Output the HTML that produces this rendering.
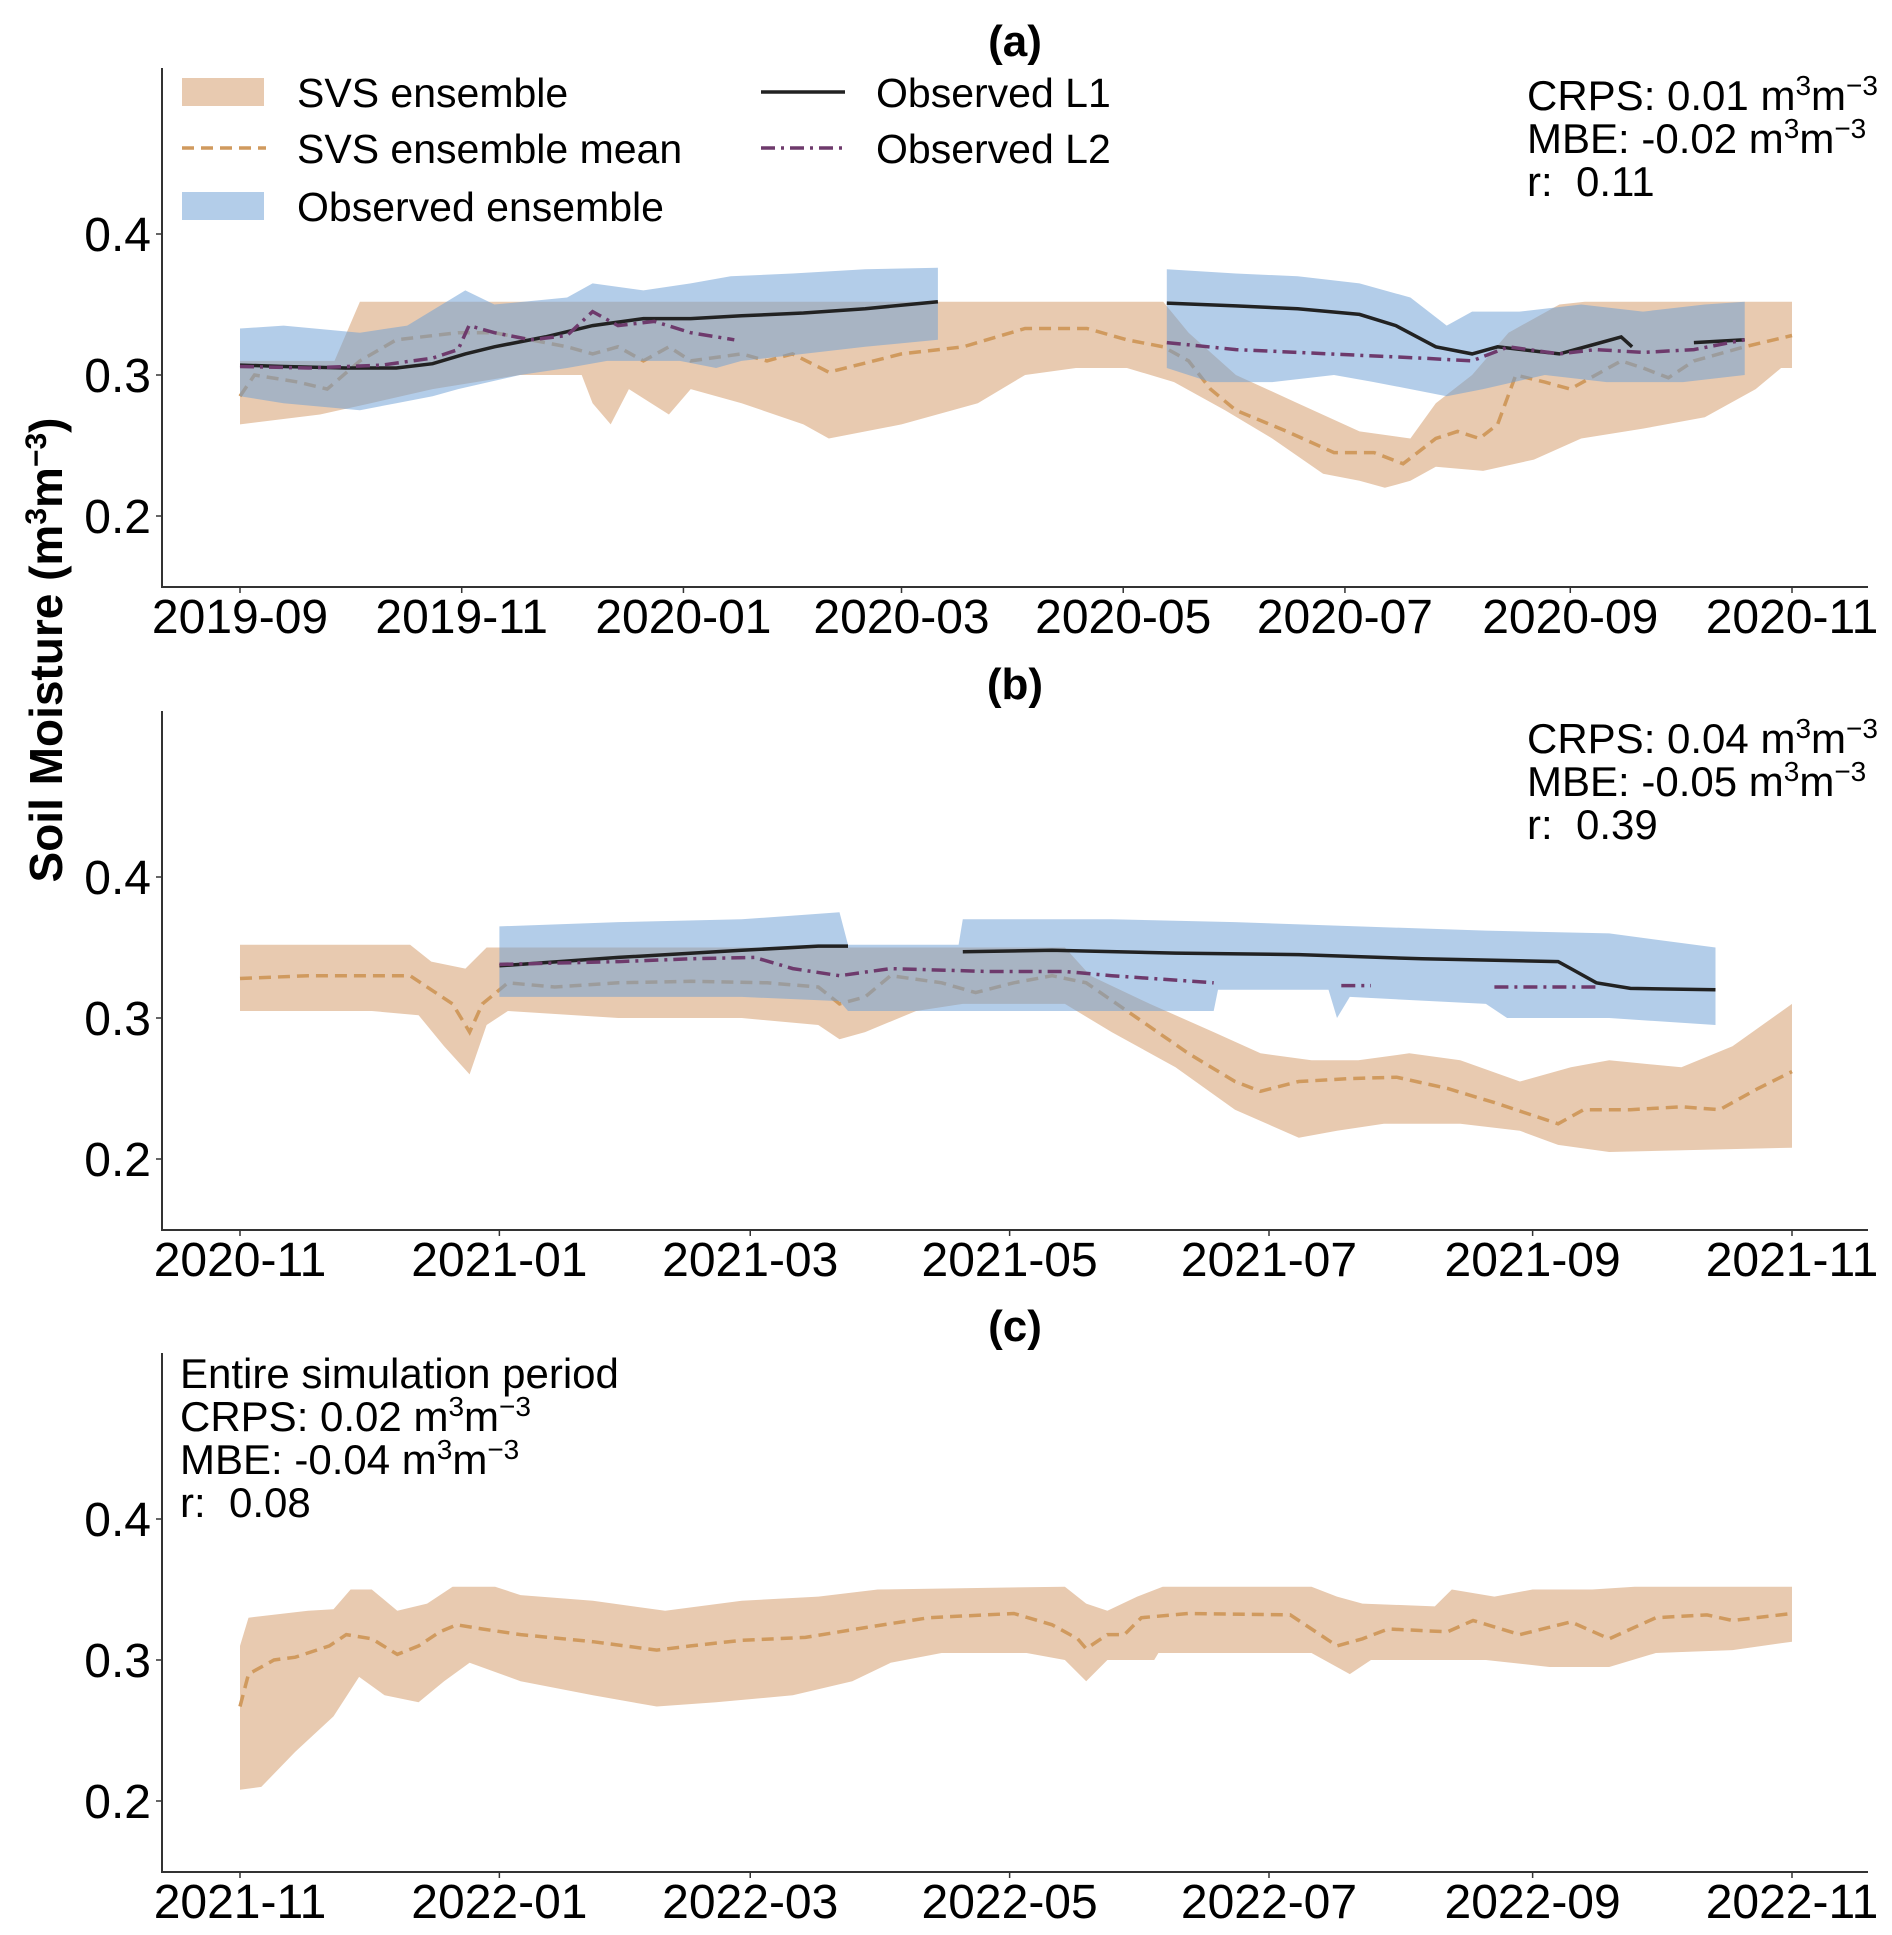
<!DOCTYPE html>
<html><head><meta charset="utf-8">
<style>
html,body{margin:0;padding:0;background:#fff;}
svg text{font-family:"Liberation Sans",sans-serif;fill:#000;}
</style></head>
<body>
<svg id="fig" width="1892" height="1930" viewBox="0 0 1892 1930" xmlns="http://www.w3.org/2000/svg">
<text transform="translate(62,650) rotate(-90)" text-anchor="middle" font-size="46" font-weight="bold">Soil Moisture (m<tspan baseline-shift="super" font-size="30">3</tspan>m<tspan baseline-shift="super" font-size="30">−3</tspan>)</text>
</svg>
<script>
// ---------- Panel (a) data: [day since 2019-09-01, value] ----------
const aTicks = ["2019-09","2019-11","2020-01","2020-03","2020-05","2020-07","2020-09","2020-11"];
const aTickDays = [0,61,122,182,243,304,366,427];
const aUpper = [[0,.31],[26,.31],[33,.352],[254,.352],[261,.33],[274,.30],[291,.28],[308,.26],[322,.255],[329,.28],[339,.30],[349,.33],[363,.35],[370,.352],[427,.352]];
const aMean = [[0,.285],[4,.30],[16,.295],[24,.29],[33,.31],[43,.325],[60,.33],[70,.33],[80,.325],[90,.32],[97,.315],[104,.32],[111,.31],[118,.32],[124,.31],[138,.315],[145,.31],[152,.315],[162,.302],[182,.315],[199,.32],[216,.333],[233,.333],[244,.325],[254,.32],[261,.31],[267,.29],[274,.275],[288,.26],[301,.245],[312,.245],[320,.237],[329,.255],[335,.26],[341,.255],[346,.265],[351,.30],[359,.295],[366,.29],[373,.30],[380,.31],[386,.305],[393,.298],[400,.31],[414,.32],[427,.328]];
const aLower = [[0,.265],[22,.272],[36,.28],[53,.29],[77,.30],[94,.30],[97,.28],[102,.265],[107,.29],[118,.272],[124,.29],[138,.28],[155,.265],[162,.255],[182,.265],[203,.28],[216,.30],[230,.305],[244,.305],[257,.295],[271,.275],[284,.255],[298,.23],[308,.225],[315,.22],[322,.225],[329,.235],[342,.232],[356,.24],[369,.255],[386,.262],[403,.27],[417,.29],[424,.305],[427,.305]];
const aObsUpper1 = [[0,.333],[12,.335],[33,.33],[46,.335],[62,.36],[70,.35],[90,.355],[97,.365],[111,.36],[124,.365],[135,.37],[152,.372],[172,.375],[192,.376]];
const aObsLower1 = [[0,.285],[12,.28],[33,.275],[43,.28],[53,.285],[60,.29],[77,.30],[90,.305],[101,.31],[111,.31],[121,.31],[131,.305],[138,.31],[155,.315],[172,.32],[192,.325]];
const aObsUpper2 = [[255,.375],[274,.372],[291,.37],[308,.365],[322,.355],[332,.335],[339,.345],[352,.345],[369,.35],[386,.345],[403,.35],[414,.352]];
const aObsLower2 = [[255,.305],[267,.295],[284,.295],[301,.30],[312,.295],[322,.29],[332,.285],[342,.29],[359,.30],[376,.295],[397,.295],[414,.30]];
const aL1 = [[[0,.307],[12,.306],[29,.305],[43,.305],[53,.308],[62,.315],[70,.32],[84,.327],[97,.335],[111,.34],[124,.34],[138,.342],[155,.344],[172,.347],[192,.352]],
             [[255,.351],[274,.349],[291,.347],[308,.343],[318,.335],[329,.32],[339,.315],[346,.32],[356,.317],[363,.315],[373,.322],[380,.327],[383,.32]],
             [[400,.323],[414,.325]]];
const aL2 = [[[0,.306],[19,.305],[39,.307],[53,.312],[60,.318],[63,.335],[70,.33],[80,.325],[90,.328],[97,.345],[104,.335],[114,.338],[124,.33],[136,.325]],
             [[255,.323],[274,.318],[291,.316],[308,.314],[325,.312],[339,.31],[349,.32],[363,.315],[373,.318],[386,.316],[400,.318],[414,.325]]];

// ---------- Panel (b) data: [day since 2020-11-01, value] ----------
const bTicks = ["2020-11","2021-01","2021-03","2021-05","2021-07","2021-09","2021-11"];
const bTickDays = [0,61,120,181,242,304,365];
const bUpper = [[0,.352],[40,.352],[45,.34],[53,.335],[58,.35],[60,.35],[194,.35],[200,.33],[214,.31],[229,.29],[240,.275],[252,.27],[263,.27],[275,.275],[287,.27],[301,.255],[313,.265],[322,.27],[339,.265],[351,.28],[365,.31]];
const bMean = [[0,.328],[16,.33],[31,.33],[40,.33],[45,.32],[50,.31],[54,.29],[57,.31],[63,.325],[74,.322],[89,.325],[106,.326],[124,.325],[136,.322],[141,.31],[147,.315],[153,.33],[165,.325],[173,.318],[182,.325],[191,.33],[199,.325],[211,.30],[223,.275],[234,.255],[240,.248],[249,.255],[261,.257],[272,.258],[284,.25],[295,.24],[310,.225],[316,.235],[327,.235],[339,.237],[348,.235],[357,.25],[365,.262]];
const bLower = [[0,.305],[31,.305],[42,.302],[48,.28],[54,.26],[58,.295],[63,.305],[89,.30],[118,.30],[136,.295],[141,.285],[147,.29],[159,.305],[170,.31],[182,.31],[194,.31],[205,.29],[220,.265],[234,.235],[249,.215],[258,.22],[269,.225],[287,.225],[301,.22],[310,.21],[322,.205],[365,.208]];
const bObsUpper = [[61,.365],[89,.368],[118,.37],[141,.375],[143,.352],[169,.352],[170,.37],[205,.37],[234,.368],[263,.365],[293,.362],[322,.36],[347,.35]];
const bObsLower = [[61,.315],[118,.315],[141,.312],[143,.305],[169,.305],[229,.305],[230,.32],[256,.32],[258,.30],[261,.315],[293,.31],[298,.30],[322,.30],[347,.295]];
const bL1 = [[[61,.337],[89,.343],[118,.348],[136,.351],[143,.351]],
             [[170,.347],[191,.348],[220,.346],[249,.345],[278,.342],[310,.34],[313,.335],[319,.325],[327,.321],[347,.32]]];
const bL2 = [[[61,.338],[89,.34],[106,.342],[121,.343],[130,.335],[141,.33],[153,.335],[176,.333],[194,.333],[205,.33],[229,.325]],
             [[259,.323],[266,.323]],[[295,.322],[319,.322]]];

// ---------- Panel (c) data: [day since 2021-11-01, value] ----------
const cTicks = ["2021-11","2022-01","2022-03","2022-05","2022-07","2022-09","2022-11"];
const cTickDays = [0,61,120,181,242,304,365];
const cUpper = [[0,.31],[2,.33],[16,.335],[22,.336],[26,.35],[31,.35],[37,.335],[44,.34],[50,.352],[60,.352],[66,.346],[83,.342],[100,.335],[118,.342],[136,.345],[150,.35],[194,.352],[199,.34],[204,.335],[211,.345],[217,.352],[252,.352],[258,.345],[264,.34],[281,.338],[285,.35],[295,.345],[304,.35],[318,.35],[328,.352],[365,.352]];
const cMean = [[0,.267],[2,.29],[8,.30],[13,.302],[21,.31],[25,.318],[31,.315],[37,.304],[42,.31],[47,.32],[51,.325],[57,.322],[66,.318],[83,.313],[98,.307],[106,.31],[118,.314],[133,.316],[147,.323],[162,.33],[182,.333],[191,.325],[197,.315],[199,.308],[204,.318],[208,.318],[212,.33],[223,.333],[247,.332],[258,.31],[264,.315],[270,.322],[284,.32],[290,.328],[301,.318],[313,.327],[322,.315],[333,.33],[345,.332],[351,.328],[365,.333]];
const cLower = [[0,.208],[5,.21],[13,.235],[22,.26],[28,.288],[34,.275],[42,.27],[48,.285],[54,.298],[66,.285],[83,.275],[98,.267],[112,.27],[130,.275],[144,.285],[153,.298],[165,.305],[185,.305],[194,.30],[199,.285],[204,.30],[215,.30],[216,.305],[252,.305],[261,.29],[266,.30],[293,.30],[308,.295],[322,.295],[333,.305],[351,.307],[365,.313]];

const yTicks = [0.2,0.3,0.4];
const yTickLabels = ["0.2","0.3","0.4"];

const NS = "http://www.w3.org/2000/svg";
const svg = document.getElementById('fig');
function mk(tag, attrs, parent){const e=document.createElementNS(NS,tag);for(const k in attrs)e.setAttribute(k,attrs[k]);(parent||svg).appendChild(e);return e;}

const X0=240, X1=1792, LEFT=162, RIGHT=1868;
function makeAxes(offset,totalDays){
  return {
    x: d => X0 + d*(X1-X0)/totalDays,
    y: v => offset + 234 + (0.4-v)*1410,
    top: offset+68, bottom: offset+587
  };
}
function bandPath(ax, up, lo){
  let s = up.map((p,i)=>(i?'L':'M')+ax.x(p[0]).toFixed(1)+','+ax.y(p[1]).toFixed(1)).join('');
  s += lo.slice().reverse().map(p=>'L'+ax.x(p[0]).toFixed(1)+','+ax.y(p[1]).toFixed(1)).join('');
  return s+'Z';
}
function linePath(ax, pts){return pts.map((p,i)=>(i?'L':'M')+ax.x(p[0]).toFixed(1)+','+ax.y(p[1]).toFixed(1)).join('');}

const TAN="#e8cab0", BLUE="rgba(110,160,212,0.52)", MEANC="#d09a5e", L1C="#222", L2C="#6e3a6c";

function panel(key, offset, totalDays, ticks, tickDays, upper, mean, lower, obsBands, l1, l2){
  const ax = makeAxes(offset,totalDays);
  const g = mk('g',{});
  
  
  const t = mk('text',{x:1015,y:offset+56,'text-anchor':'middle','font-size':44,'font-weight':'bold'},g);
  t.textContent='('+key+')';
  
  
  const sb = mk('path',{d:bandPath(ax,upper,lower),fill:TAN},g);
  
  
  const ml = mk('path',{d:linePath(ax,mean),fill:'none',stroke:MEANC,'stroke-width':3.5,'stroke-dasharray':'12,7'},g);
  
  
  obsBands.forEach(b=>{
    const ob = mk('path',{d:bandPath(ax,b[0],b[1]),fill:BLUE},g);
    
    
  });
  l1.forEach(seg=>{
    const p = mk('path',{d:linePath(ax,seg),fill:'none',stroke:L1C,'stroke-width':3.5},g);
    
    
  });
  l2.forEach(seg=>{
    const p = mk('path',{d:linePath(ax,seg),fill:'none',stroke:L2C,'stroke-width':3.5,'stroke-dasharray':'14,6,3,6'},g);
    
    
  });
  const sp = mk('path',{d:`M${LEFT},${ax.top}V${ax.bottom}H${RIGHT}`,fill:'none',stroke:'#333','stroke-width':2},g);
  
  
  ticks.forEach((lab,i)=>{
    const x=ax.x(tickDays[i]);
    mk('line',{x1:x,x2:x,y1:ax.bottom,y2:ax.bottom+6,stroke:'#333','stroke-width':1.5},g);
    const tx = mk('text',{x:x,y:ax.bottom+46,'text-anchor':'middle','font-size':48},g);
    tx.textContent=lab;
    
    
  });
  yTicks.forEach((v,i)=>{
    const y=ax.y(v);
    mk('line',{x1:LEFT-6,x2:LEFT,y1:y,y2:y,stroke:'#333','stroke-width':1.5},g);
    const ty = mk('text',{x:151,y:y+17,'text-anchor':'end','font-size':48},g);
    ty.textContent=yTickLabels[i];
    
    
  });
  return g;
}

function stats(x, y0, lines, parent){
  lines.forEach((ln,i)=>{
    const t = mk('text',{x:x,y:y0+i*43,'font-size':42},parent);
    
    
    if(ln.u){
      t.appendChild(document.createTextNode(ln.t+' m'));
      const s1=mk('tspan',{'baseline-shift':'super','font-size':28},t); s1.textContent='3';
      t.appendChild(document.createTextNode('m'));
      const s2=mk('tspan',{'baseline-shift':'super','font-size':28},t); s2.textContent='−3';
    } else t.textContent=ln.t;
  });
}

const ga = panel('a',0,427,aTicks,aTickDays,aUpper,aMean,aLower,[[aObsUpper1,aObsLower1],[aObsUpper2,aObsLower2]],aL1,aL2);
stats(1527,110,[{t:'CRPS: 0.01',u:1},{t:'MBE: -0.02',u:1},{t:'r:\u00a0 0.11'}],ga);
const gb = panel('b',643,365,bTicks,bTickDays,bUpper,bMean,bLower,[[bObsUpper,bObsLower]],bL1,bL2);
stats(1527,753,[{t:'CRPS: 0.04',u:1},{t:'MBE: -0.05',u:1},{t:'r:\u00a0 0.39'}],gb);
const gc = panel('c',1285,365,cTicks,cTickDays,cUpper,cMean,cLower,[],[],[]);
stats(180,1388,[{t:'Entire simulation period'},{t:'CRPS: 0.02',u:1},{t:'MBE: -0.04',u:1},{t:'r:\u00a0 0.08'}],gc);

const lg = mk('g',{});


const items = [
  {type:'patch',c:TAN,x:182,y:92,label:'SVS ensemble'},
  {type:'dash',c:MEANC,x:182,y:148,label:'SVS ensemble mean',da:'12,7'},
  {type:'patch',c:BLUE,x:182,y:206,label:'Observed ensemble'},
  {type:'line',c:L1C,x:761,y:92,label:'Observed L1'},
  {type:'dash',c:L2C,x:761,y:148,label:'Observed L2',da:'14,6,3,6'}
];
items.forEach(it=>{
  const e = mk('g',{},lg);
  
  
  if(it.type==='patch') mk('rect',{x:it.x,y:it.y-14,width:82,height:28,fill:it.c},e);
  else mk('line',{x1:it.x,x2:it.x+84,y1:it.y,y2:it.y,stroke:it.c,'stroke-width':3.5,'stroke-dasharray':it.da||'none'},e);
  const t = mk('text',{x:it.x+115,y:it.y+15,'font-size':41},e);
  t.textContent=it.label;
});
</script>
</body></html>
